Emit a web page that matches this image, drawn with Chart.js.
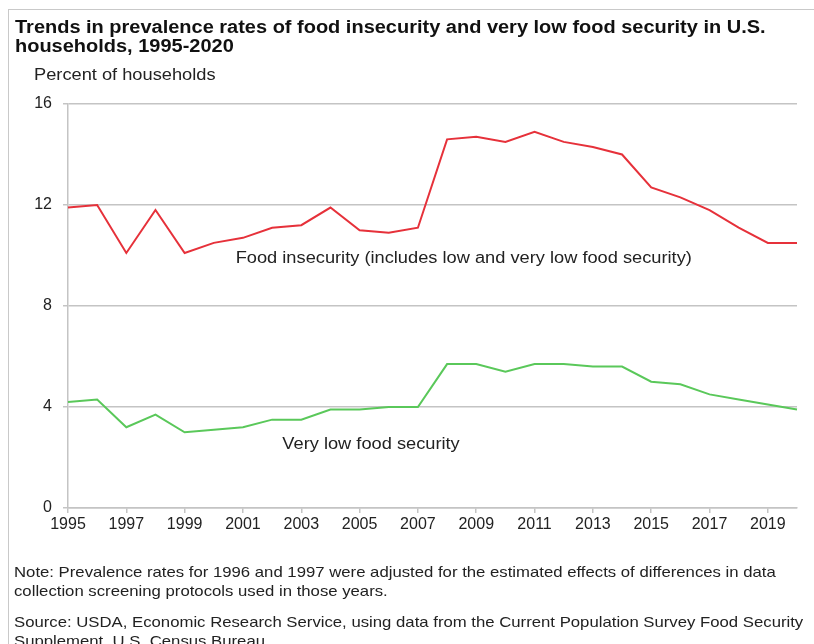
<!DOCTYPE html>
<html>
<head>
<meta charset="utf-8">
<script src="https://cdn.jsdelivr.net/npm/chart.js@4.4.1/dist/chart.umd.min.js"></script>
<style>
  html, body { margin: 0; padding: 0; background: #fff; }
  #wrap { position: relative; width: 814px; height: 644px; overflow: hidden; }
  #frame { position: absolute; left: 8px; top: 9px; width: 820px; height: 660px;
           border-left: 1.5px solid #c9c9c9; border-top: 1.5px solid #c9c9c9; }
  canvas { position: absolute; left: 0; top: 0; }
  .txt { position: absolute; font-family: "Liberation Sans", Arial, sans-serif; color: #222;
         white-space: nowrap; transform-origin: 0 0; }
  #title { left: 15px; top: 18px; font-size: 18px; font-weight: bold; line-height: 19px; color: #111;
           transform: scaleX(1.11); }
  #ytitle { left: 34px; top: 65px; font-size: 16px; line-height: 20px; transform: scaleX(1.14); }
  #note { left: 14px; top: 562px; font-size: 15px; line-height: 19px; transform: scaleX(1.115); }
  #source { left: 14px; top: 612px; font-size: 15px; line-height: 19px; transform: scaleX(1.115); }
</style>
</head>
<body>
<div id="wrap">
  <div id="frame"></div>
  <canvas id="c" width="814" height="644"></canvas>
  <div class="txt" id="title">Trends in prevalence rates of food insecurity and very low food security in U.S.<br>households, 1995-2020</div>
  <div class="txt" id="ytitle">Percent of households</div>
  <div class="txt" id="note">Note: Prevalence rates for 1996 and 1997 were adjusted for the estimated effects of differences in data<br>collection screening protocols used in those years.</div>
  <div class="txt" id="source">Source: USDA, Economic Research Service, using data from the Current Population Survey Food Security<br>Supplement, U.S. Census Bureau.</div>
</div>
<script>
// Survey years
const years = [1995, 1996, 1997, 1998, 1999, 2000, 2001, 2002, 2003, 2004, 2005, 2006, 2007,
               2008, 2009, 2010, 2011, 2012, 2013, 2014, 2015, 2016, 2017, 2018, 2019, 2020];

// Food insecurity (includes low and very low food security), percent of households
const foodInsecurity = [11.9, 12.0, 10.1, 11.8, 10.1, 10.5, 10.7, 11.1, 11.2, 11.9, 11.0, 10.9, 11.1,
                        14.6, 14.7, 14.5, 14.9, 14.5, 14.3, 14.0, 12.7, 12.3, 11.8, 11.1, 10.5, 10.5];

// Very low food security, percent of households
const veryLowFoodSecurity = [4.2, 4.3, 3.2, 3.7, 3.0, 3.1, 3.2, 3.5, 3.5, 3.9, 3.9, 4.0, 4.0,
                             5.7, 5.7, 5.4, 5.7, 5.7, 5.6, 5.6, 5.0, 4.9, 4.5, 4.3, 4.1, 3.9];

// Y-axis tick values
const yTicks = [0, 4, 8, 12, 16];

// In-chart series labels, anchored in data units (years since 1995, percent)
const seriesLabels = [
  { text: 'Food insecurity (includes low and very low food security)', year: 1995 + 5.75, value: 9.88 },
  { text: 'Very low food security', year: 1995 + 7.35, value: 2.52 }
];

const GRID = '#c4c4c4';
const FONT = '"Liberation Sans", Arial, sans-serif';

const labelPlugin = {
  id: 'seriesLabels',
  afterDatasetsDraw(chart) {
    const { ctx, scales: { x, y } } = chart;
    ctx.save();
    ctx.font = '16px ' + FONT;
    ctx.fillStyle = '#222';
    ctx.textAlign = 'left';
    ctx.textBaseline = 'middle';
    seriesLabels.forEach(l => {
      const px = x.getPixelForValue(l.year - 1995);
      const py = y.getPixelForValue(l.value);
      ctx.save();
      ctx.translate(px, py);
      ctx.scale(1.14, 1);
      ctx.fillText(l.text, 0, 0);
      ctx.restore();
    });
    ctx.restore();
  }
};

new Chart(document.getElementById('c'), {
  type: 'line',
  data: {
    labels: years.map(String),
    datasets: [
      { data: foodInsecurity, borderColor: '#e6313a', borderWidth: 2, pointRadius: 0, tension: 0 },
      { data: veryLowFoodSecurity, borderColor: '#5ac85a', borderWidth: 2, pointRadius: 0, tension: 0 }
    ]
  },
  options: {
    responsive: false,
    animation: false,
    events: [],
    layout: { padding: { left: 0, right: 17, top: 104, bottom: 106 } },
    plugins: { legend: { display: false }, tooltip: { enabled: false }, title: { display: false } },
    scales: {
      x: {
        offset: false,
        afterFit(scale) { scale.height = 30; },
        border: { color: GRID, width: 1.5 },
        grid: { drawOnChartArea: false, drawTicks: true, tickLength: 5, color: GRID, lineWidth: 1.5 },
        ticks: {
          autoSkip: false, maxRotation: 0, padding: 2, color: '#222',
          font: { family: FONT, size: 16 },
          callback(v, i) { return years[i] % 2 === 1 ? years[i] : null; }
        }
      },
      y: {
        min: 0, max: 16,
        afterFit(scale) { scale.width = 68; },
        afterBuildTicks(scale) { scale.ticks = yTicks.map(v => ({ value: v })); },
        border: { color: GRID, width: 1.5 },
        grid: { color: GRID, lineWidth: 1.5, tickLength: 5 },
        ticks: { padding: 11, color: '#222', font: { family: FONT, size: 16 } }
      }
    }
  },
  plugins: [labelPlugin]
});
</script>
</body>
</html>
